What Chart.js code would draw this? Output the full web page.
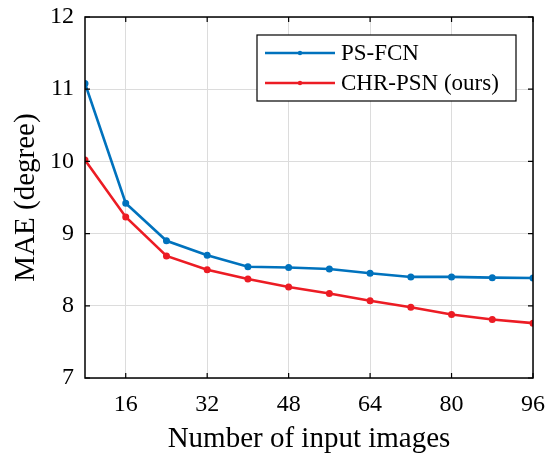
<!DOCTYPE html>
<html>
<head>
<meta charset="utf-8">
<script src="https://cdn.jsdelivr.net/npm/chart.js@4.4.1/dist/chart.umd.min.js"></script>
<style>
  html, body { margin: 0; padding: 0; background: #fff; }
  #wrap { width: 555px; height: 454px; }
</style>
</head>
<body>
<div id="wrap"><canvas id="maeChart" width="555" height="454"></canvas></div>
<script>
// number of input images
var imageCounts = [8, 16, 24, 32, 40, 48, 56, 64, 72, 80, 88, 96];
var psFcn = [11.08, 9.42, 8.90, 8.70, 8.54, 8.53, 8.51, 8.45, 8.40, 8.40, 8.39, 8.385];
var chrPsn = [10.02, 9.23, 8.69, 8.50, 8.37, 8.26, 8.17, 8.07, 7.98, 7.88, 7.81, 7.76];
var xTicks = [16, 32, 48, 64, 80, 96];
var yTicks = [7, 8, 9, 10, 11, 12];
var seriesNames = ['PS-FCN', 'CHR-PSN (ours)'];

var FONT = '"Liberation Serif", "Times New Roman", serif';

function toPoints(ys) {
    return imageCounts.map(function(x, i) { return { x: x, y: ys[i] }; });
}

// box border, inward ticks and boxed legend, matlab style
var matlabBox = {
    id: 'matlabBox',
    afterDraw: function(chart) {
        var c = chart.ctx, a = chart.chartArea;
        var xs = chart.scales.x, ys = chart.scales.y;
        c.save();
        c.strokeStyle = '#000';
        c.lineWidth = 1.5;
        c.strokeRect(a.left, a.top, a.right - a.left, a.bottom - a.top);
        c.lineWidth = 1.2;
        c.beginPath();
        xTicks.forEach(function(v) {
            var px = xs.getPixelForValue(v);
            c.moveTo(px, a.bottom); c.lineTo(px, a.bottom - 5);
            c.moveTo(px, a.top); c.lineTo(px, a.top + 5);
        });
        yTicks.forEach(function(v) {
            var py = ys.getPixelForValue(v);
            c.moveTo(a.left, py); c.lineTo(a.left + 5, py);
            c.moveTo(a.right, py); c.lineTo(a.right - 5, py);
        });
        c.stroke();

        // legend
        var lx = 257, ly = 35, lw = 259, lh = 66;
        c.fillStyle = '#fff';
        c.fillRect(lx, ly, lw, lh);
        c.lineWidth = 1.2;
        c.strokeRect(lx, ly, lw, lh);
        c.font = '23px ' + FONT;
        c.textBaseline = 'middle';
        chart.data.datasets.forEach(function(ds, i) {
            var y = ly + 18 + i * 30;
            c.strokeStyle = ds.borderColor;
            c.lineWidth = 2.5;
            c.beginPath(); c.moveTo(lx + 8, y); c.lineTo(lx + 78, y); c.stroke();
            c.fillStyle = ds.borderColor;
            c.beginPath(); c.arc(lx + 43, y, 2.2, 0, Math.PI * 2); c.fill();
            c.fillStyle = '#000';
            c.fillText(ds.label, lx + 84, y + 1);
        });
        c.restore();
    }
};

var ctx = document.getElementById('maeChart').getContext('2d');
var maeChart = new Chart(ctx, {
    type: 'line',
    data: {
        datasets: [{
            label: seriesNames[0],
            data: toPoints(psFcn),
            borderColor: '#0072BD',
            backgroundColor: '#0072BD',
            borderWidth: 2.6,
            pointRadius: 2.2,
            pointHoverRadius: 2.2,
            tension: 0
        }, {
            label: seriesNames[1],
            data: toPoints(chrPsn),
            borderColor: '#EC1C24',
            backgroundColor: '#EC1C24',
            borderWidth: 2.6,
            pointRadius: 2.2,
            pointHoverRadius: 2.2,
            tension: 0
        }]
    },
    options: {
        responsive: false,
        animation: false,
        devicePixelRatio: 1,
        layout: { padding: { top: 17, right: 22, left: 0, bottom: 0 } },
        plugins: {
            legend: { display: false },
            tooltip: { enabled: false }
        },
        scales: {
            x: {
                type: 'linear',
                min: 8,
                max: 96,
                afterBuildTicks: function(axis) {
                    axis.ticks = xTicks.map(function(v) { return { value: v }; });
                },
                afterFit: function(axis) {
                    axis.height = 76;
                    axis.paddingLeft = 0;
                    axis.paddingRight = 0;
                },
                grid: { color: '#dcdcdc', lineWidth: 1, drawTicks: false },
                border: { display: false },
                ticks: {
                    color: '#000',
                    padding: 12,
                    maxRotation: 0,
                    font: { family: FONT, size: 24 }
                },
                title: {
                    display: true,
                    text: 'Number of input images',
                    color: '#000',
                    padding: { top: 0, bottom: 0 },
                    font: { family: FONT, size: 29, lineHeight: 1.0 }
                }
            },
            y: {
                type: 'linear',
                min: 7,
                max: 12,
                afterBuildTicks: function(axis) {
                    axis.ticks = yTicks.map(function(v) { return { value: v }; });
                },
                afterFit: function(axis) {
                    axis.width = 85;
                    axis.paddingTop = 0;
                    axis.paddingBottom = 0;
                },
                grid: { color: '#dcdcdc', lineWidth: 1, drawTicks: false },
                border: { display: false },
                ticks: {
                    color: '#000',
                    padding: 11,
                    font: { family: FONT, size: 24 }
                },
                title: {
                    display: true,
                    text: 'MAE (degree)',
                    color: '#000',
                    padding: { top: 9, bottom: 0 },
                    font: { family: FONT, size: 29 }
                }
            }
        }
    },
    plugins: [matlabBox]
});
</script>
</body>
</html>
